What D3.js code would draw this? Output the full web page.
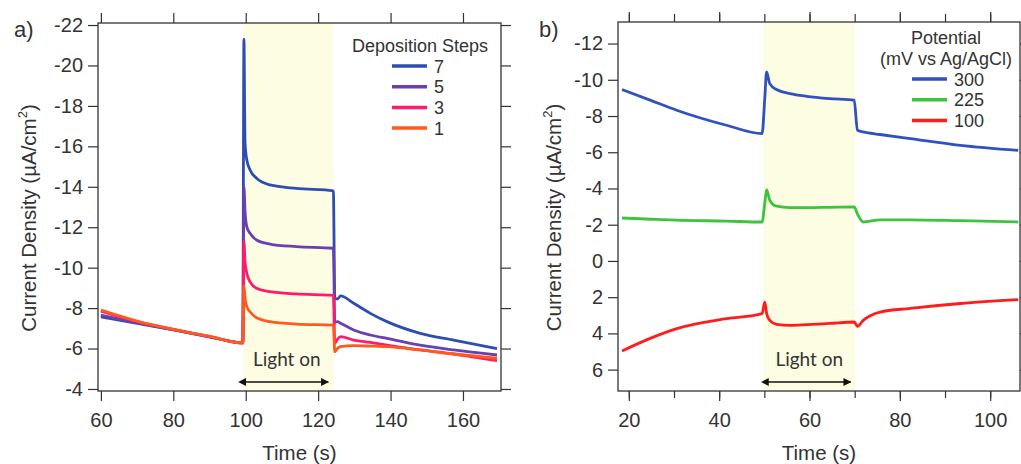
<!DOCTYPE html>
<html>
<head>
<meta charset="utf-8">
<script src="https://cdn.jsdelivr.net/npm/d3@7"></script>
<style>
  body { margin: 0; background: #fff; }
  svg text { font-family: "Liberation Sans", Arial, sans-serif; fill: #333; }
  .axis text { font-size: 20px; }
  .axis line { stroke: #333; stroke-width: 1.2; }
  .axis path { display: none; }
  .lighton { font-family: Lato, "Open Sans", sans-serif !important; font-size: 19px; }
</style>
</head>
<body>
<svg id="canvas" width="1021" height="464"></svg>
<script>
// ---- panel a : deposition steps ----
const timesA = [60, 70, 80, 90, 99.2, 99.5, 99.8, 100.3, 101.2, 103, 106.7, 114, 124.2,
                124.6, 125.3, 126.2, 129.8, 134.4, 139, 148.2, 157.4, 169.4];
const steps7 = [-7.57, -7.25, -6.92, -6.58, -6.28, -21.3, -16.2, -15.32, -14.83, -14.42, -14.09, -13.92, -13.8,
                -8.5, -8.45, -8.6, -8.24, -7.74, -7.33, -6.75, -6.42, -6.0];
const steps5 = [-7.65, -7.28, -6.93, -6.58, -6.28, -14.0, -12.8, -12.02, -11.7, -11.37, -11.17, -11.04, -10.96,
                -7.3, -7.33, -7.25, -6.92, -6.67, -6.5, -6.17, -5.93, -5.68];
const steps3 = [-7.85, -7.33, -6.95, -6.6, -6.28, -11.3, -10.3, -9.72, -9.3, -8.98, -8.81, -8.7, -8.63,
                -6.26, -6.45, -6.59, -6.42, -6.3, -6.17, -5.93, -5.73, -5.4];
const steps1 = [-7.9, -7.36, -6.95, -6.6, -6.28, -9.1, -8.5, -8.07, -7.82, -7.52, -7.33, -7.21, -7.16,
                -5.84, -6.0, -6.09, -6.14, -6.12, -6.09, -5.93, -5.73, -5.52];
const seriesA = ['7', '5', '3', '1'];
const colorsA = ['#2d4db3', '#6a3fb0', '#ff1a6c', '#ff5a1c'];
const lightA = [99.3, 124.3];
const arrowA = [99.9, 122.8];
const xTicksA = [60, 80, 100, 120, 140, 160];
const yTicksA = [-22, -20, -18, -16, -14, -12, -10, -8, -6, -4];

// ---- panel b : potential ----
const timesB = [18.5, 25, 30.6, 41.6, 49.5, 50.1, 50.5, 51.2, 52.7, 55.7, 59.4, 64.5, 69.9,
                70.6, 71.9, 75.6, 82.3, 93.4, 106.2];
const pot300 = [-9.46, -8.85, -8.32, -7.49, -7.03, -9.0, -10.43, -9.79, -9.46, -9.24, -9.09, -8.96, -8.87,
                -7.21, -7.12, -6.98, -6.75, -6.38, -6.1];
const pot225 = [-2.37, -2.3, -2.25, -2.2, -2.15, -3.2, -3.94, -3.35, -3.02, -2.94, -2.94, -2.96, -2.98,
                -2.6, -2.15, -2.27, -2.27, -2.22, -2.15];
const pot100 = [4.97, 4.25, 3.74, 3.19, 2.91, 2.27, 2.9, 3.28, 3.5, 3.56, 3.52, 3.45, 3.37,
                3.61, 3.28, 2.82, 2.62, 2.35, 2.14];
const seriesB = ['300', '225', '100'];
const colorsB = ['#2f52bf', '#3cc43c', '#ff1c1c'];
const lightB = [49.8, 70.1];
const arrowB = [50.8, 69.1];
const xTicksB = [20, 40, 60, 80, 100];
const xMinorB = [20, 30, 40, 50, 60, 70, 80, 90, 100];
const yTicksB = [-12, -10, -8, -6, -4, -2, 0, 2, 4, 6];

const svg = d3.select('#canvas');
const plainNum = (d) => String(d);   // keep the ascii hyphen like the original

const defs = svg.append('defs');
['start', 'end'].forEach(function (k) {
    defs.append('marker')
        .attr('id', 'arr-' + k)
        .attr('viewBox', '0 0 10 10')
        .attr('refX', k === 'end' ? 9 : 1).attr('refY', 5)
        .attr('markerWidth', 5).attr('markerHeight', 5)
        .attr('orient', k === 'end' ? 'auto' : 'auto-start-reverse')
        .append('path').attr('d', 'M0,0 L10,5 L0,10 z').attr('fill', '#111');
});

function drawPanel(cfg) {
    const g = svg.append('g');
    const x = d3.scaleLinear().domain(cfg.xDomain).range([cfg.left, cfg.right]);
    const y = d3.scaleLinear().domain(cfg.yDomain).range([cfg.bottom, cfg.top]);

    // light-on band
    g.append('rect')
        .attr('x', x(cfg.light[0])).attr('y', cfg.top)
        .attr('width', x(cfg.light[1]) - x(cfg.light[0]))
        .attr('height', cfg.bottom - cfg.top)
        .attr('fill', '#fdfde4');

    // axes
    g.append('g').attr('class', 'axis')
        .attr('transform', `translate(${cfg.left},0)`)
        .call(d3.axisLeft(y).tickValues(cfg.yTicks).tickSize(10).tickPadding(5).tickFormat(plainNum));
    g.append('g').attr('class', 'axis')
        .attr('transform', `translate(${cfg.right},0)`)
        .call(d3.axisRight(y).tickValues(cfg.yTicks).tickSize(10).tickFormat(''));
    if (cfg.xMinor) {
        g.append('g').attr('class', 'axis')
            .attr('transform', `translate(0,${cfg.bottom})`)
            .call(d3.axisBottom(x).tickValues(cfg.xMinor).tickSize(7).tickFormat(''));
        g.append('g').attr('class', 'axis')
            .attr('transform', `translate(0,${cfg.top})`)
            .call(d3.axisTop(x).tickValues(cfg.xMinor).tickSize(8).tickFormat(''));
    }
    g.append('g').attr('class', 'axis')
        .attr('transform', `translate(0,${cfg.bottom})`)
        .call(d3.axisBottom(x).tickValues(cfg.xTicks).tickSize(10).tickPadding(12).tickFormat(plainNum));
    g.append('g').attr('class', 'axis')
        .attr('transform', `translate(0,${cfg.top})`)
        .call(d3.axisTop(x).tickValues(cfg.xTicks).tickSize(10).tickFormat(''));

    g.append('rect')
        .attr('x', cfg.left).attr('y', cfg.top)
        .attr('width', cfg.right - cfg.left).attr('height', cfg.bottom - cfg.top)
        .attr('fill', 'none').attr('stroke', '#333').attr('stroke-width', 1.3);

    // curves
    const line = d3.line()
        .x((d, i) => x(cfg.times[i]))
        .y((d) => y(d))
        .curve(d3.curveMonotoneX);
    cfg.values.forEach(function (vals, i) {
        g.append('path')
            .attr('d', line(vals))
            .attr('fill', 'none')
            .attr('stroke', cfg.colors[i])
            .attr('stroke-width', 2.8)
            .attr('stroke-linejoin', 'round');
    });

    // light on label + arrow
    const ax0 = x(cfg.arrow[0]), ax1 = x(cfg.arrow[1]);
    g.append('text').attr('class', 'lighton')
        .attr('x', (ax0 + ax1) / 2).attr('y', cfg.bottom - 25)
        .attr('text-anchor', 'middle').text('Light on');
    g.append('line')
        .attr('x1', ax0).attr('x2', ax1)
        .attr('y1', cfg.bottom - 9).attr('y2', cfg.bottom - 9)
        .attr('stroke', '#111').attr('stroke-width', 1.6)
        .attr('marker-start', 'url(#arr-start)').attr('marker-end', 'url(#arr-end)');

    // axis titles
    g.append('text')
        .attr('x', (cfg.left + cfg.right) / 2).attr('y', 460)
        .attr('text-anchor', 'middle').style('font-size', '20.5px').text('Time (s)');
    const yt = g.append('text')
        .attr('transform', `translate(${cfg.titleX},${(cfg.top + cfg.bottom) / 2 + 11}) rotate(-90)`)
        .attr('text-anchor', 'middle').style('font-size', '20.5px');
    yt.append('tspan').text('Current Density (µA/cm');
    yt.append('tspan').attr('dy', -9).style('font-size', '13px').text('2');
    yt.append('tspan').attr('dy', 9).text(')');

    // panel label
    g.append('text').attr('x', cfg.labelX).attr('y', 37)
        .style('font-size', '22px').text(cfg.label);

    // legend
    const lg = g.append('g');
    cfg.legendTitle.forEach(function (t, i) {
        lg.append('text')
            .attr('x', cfg.legendTitleX).attr('y', 52 + i * 21 - cfg.legendShift)
            .attr('text-anchor', cfg.legendAnchor)
            .style('font-size', '18px').text(t);
    });
    cfg.series.forEach(function (s, i) {
        const ly = cfg.legendY0 + i * 20.7;
        lg.append('line')
            .attr('x1', cfg.legendX).attr('x2', cfg.legendX + 35)
            .attr('y1', ly).attr('y2', ly)
            .attr('stroke', cfg.colors[i]).attr('stroke-width', 3.5);
        lg.append('text')
            .attr('x', cfg.legendX + 42).attr('y', ly + 6.5)
            .style('font-size', '18px').text(s);
    });
}

drawPanel({
    left: 98, right: 501, top: 23, bottom: 391,
    xDomain: [59.2, 170.5], yDomain: [-3.9, -22.1],
    xTicks: xTicksA, yTicks: yTicksA,
    times: timesA, values: [steps7, steps5, steps3, steps1],
    colors: colorsA, series: seriesA,
    light: lightA, arrow: arrowA,
    titleX: 36, label: 'a)', labelX: 14,
    legendTitle: ['Deposition Steps'], legendTitleX: 488, legendAnchor: 'end', legendShift: 0,
    legendX: 392, legendY0: 66
});

drawPanel({
    left: 618, right: 1020, top: 22, bottom: 391,
    xDomain: [17.6, 106.6], yDomain: [7.18, -13.19],
    xTicks: xTicksB, xMinor: xMinorB, yTicks: yTicksB,
    times: timesB, values: [pot300, pot225, pot100],
    colors: colorsB, series: seriesB,
    light: lightB, arrow: arrowB,
    titleX: 561, label: 'b)', labelX: 539,
    legendTitle: ['Potential', '(mV vs Ag/AgCl)'], legendTitleX: 946, legendAnchor: 'middle', legendShift: 8,
    legendX: 912, legendY0: 79
});
</script>
</body>
</html>
